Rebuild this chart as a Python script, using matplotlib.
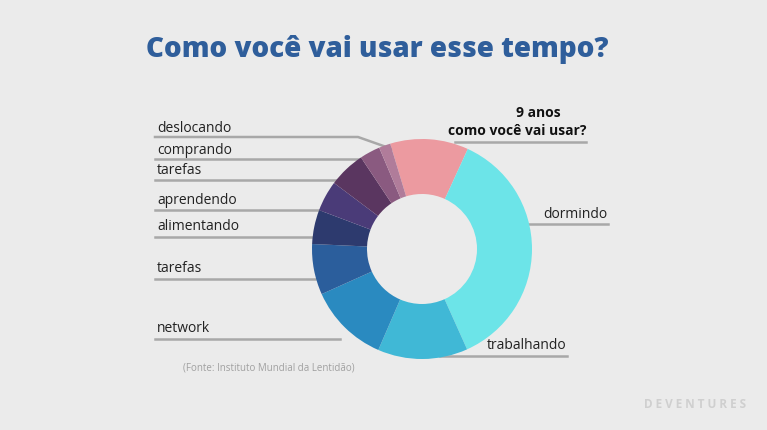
import matplotlib
matplotlib.use("Agg")
import matplotlib.pyplot as plt

labels = ["9 anos", "dormindo", "trabalhando", "network", "tarefas", "alimentando",
          "aprendendo", "tarefas", "comprando", "deslocando"]
values = [41.4, 131.2, 47.6, 42.4, 26.8, 18.1, 16.2, 19.4, 10.8, 6.1]
colors = ["#EC9AA0", "#6CE4E8", "#40B8D6", "#2A8AC0", "#2B5E9C", "#2D3A6E",
          "#4A3B78", "#5A3660", "#8A5A80", "#B07C9A"]

W, H = 767, 431
fig = plt.figure(figsize=(W/100, H/100), dpi=100, facecolor="#EBEBEB")
ax = fig.add_axes([0, 0, 1, 1])
ax.set_facecolor("#EBEBEB")

cx, cy, R = 422, H - 250, 110
ax.pie(values, colors=colors, startangle=106.8, counterclock=False,
       center=(cx, cy), radius=R, wedgeprops=dict(width=R*0.5, linewidth=0), frame=True)
ax.set_xlim(0, W); ax.set_ylim(0, H); ax.axis("off"); ax.set_aspect("equal")

def Y(y): return H - y
fam = "Open Sans"
ax.text(377, Y(50), "Como você vai usar esse tempo?", ha="center", va="center",
        fontsize=20, fontweight="heavy", color="#2F5E9B", family=fam)

lc = "#A8A8A8"
left = [("deslocando", 128, [(155, 138), (358, 138), (392, 150)]),
        ("comprando", 150, [(155, 160), (370, 160)]),
        ("tarefas", 170, [(155, 181), (345, 181)]),
        ("aprendendo", 200, [(155, 211), (330, 211)]),
        ("alimentando", 226, [(155, 238), (316, 238)]),
        ("tarefas", 269, [(155, 280), (315, 280)]),
        ("network", 328, [(155, 340), (340, 340)])]
for t, y, pts in left:
    ax.text(157, Y(y), t, ha="left", va="center", fontsize=10, color="#222222", family=fam)
    ax.plot([p[0] for p in pts], [Y(p[1]) for p in pts], color=lc, lw=1.8, zorder=0)

ax.text(538, Y(113), "9 anos", ha="center", va="center", fontsize=10,
        fontweight="bold", color="#111111", family=fam)
ax.text(517, Y(131), "como você vai usar?", ha="center", va="center", fontsize=10,
        fontweight="bold", color="#111111", family=fam)
ax.plot([455, 586], [Y(143), Y(143)], color=lc, lw=1.8, zorder=0)
ax.text(543, Y(214), "dormindo", ha="left", va="center", fontsize=10, color="#222222", family=fam)
ax.plot([528, 608], [Y(225), Y(225)], color=lc, lw=1.8, zorder=0)
ax.text(487, Y(346), "trabalhando", ha="left", va="center", fontsize=10, color="#222222", family=fam)
ax.plot([440, 567], [Y(357), Y(357)], color=lc, lw=1.8, zorder=0)

ax.text(183, Y(368), "(Fonte: Instituto Mundial da Lentidão)", ha="left", va="center",
        fontsize=7, color="#A0A0A0", family=fam)
ax.text(695, Y(405), "D E V E N T U R E S", ha="center", va="center", fontsize=8.5,
        color="#CFCFCF", family=fam, fontweight="bold")

fig.savefig("out.png", dpi=100, facecolor="#EBEBEB")
